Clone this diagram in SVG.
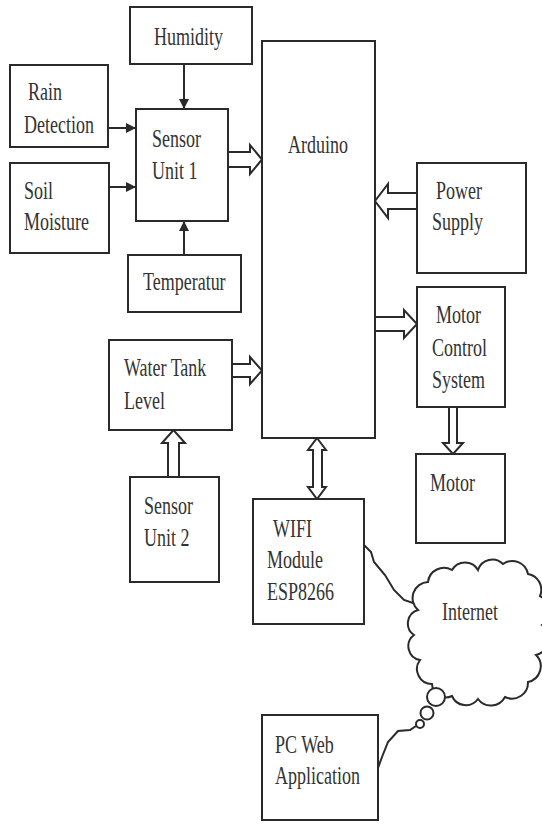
<svg xmlns="http://www.w3.org/2000/svg" width="542" height="826" viewBox="0 0 542 826">
<style>
.box{fill:#fff;stroke:#2a2a2a;stroke-width:2}
.ln{fill:none;stroke:#2a2a2a;stroke-width:2}
.ha{fill:#fff;stroke:#2a2a2a;stroke-width:2;stroke-linejoin:miter}
.t{font-family:"Liberation Serif","Times New Roman",serif;font-size:18px;fill:#333}
</style>
<defs>
<marker id="ah" viewBox="0 0 10 10" refX="10" refY="5" markerWidth="10" markerHeight="10" markerUnits="userSpaceOnUse" orient="auto">
<path d="M0,0 L10,5 L0,10 z" fill="#2a2a2a"/>
</marker>
</defs>
<rect width="542" height="826" fill="#fff"/>
<g id="connectors">
<line class="ln" x1="184" y1="64" x2="184" y2="109" marker-end="url(#ah)"/>
<line class="ln" x1="108" y1="128" x2="136" y2="128" marker-end="url(#ah)"/>
<line class="ln" x1="109" y1="187" x2="136" y2="187" marker-end="url(#ah)"/>
<line class="ln" x1="184" y1="255" x2="184" y2="221" marker-end="url(#ah)"/>
<polygon class="ha" points="228,152 250,152 250,145 262,159.5 250,174 250,167 228,167"/>
<polygon class="ha" points="232,364 250,364 250,357 262,370.5 250,384 250,377 232,377"/>
<polygon class="ha" points="417,193 388,193 388,184 375,201 388,218 388,209 417,209"/>
<polygon class="ha" points="375,317 404,317 404,310 417,324 404,338 404,331 375,331"/>
<polygon class="ha" points="449,407 449,443 443,443 453,454 463,443 457,443 457,407"/>
<polygon class="ha" points="168,477 168,443 162,443 173.5,430 185,443 179,443 179,477"/>
<polygon class="ha" points="317,438 326,450 322,450 322,487 326,487 317,499 308,487 313,487 313,450 308,450"/>
<path class="ln" d="M364,545 L371,552 L374,562 L385,575 L394,590 L404,600 L416,604"/>
<path class="ln" d="M378,768 L382,757 L388,742 L398,731 L410,730 L416,726"/>
</g>
<g id="humidity"><rect class="box" x="130" y="7" width="122" height="57"/><text class="t" transform="translate(154 45) scale(1 1.4)">Humidity</text></g>
<g id="rain"><rect class="box" x="10" y="65" width="98" height="82"/><text class="t" transform="translate(28 100) scale(1 1.4)">Rain</text><text class="t" transform="translate(24 133) scale(1 1.4)">Detection</text></g>
<g id="soil"><rect class="box" x="10" y="163" width="99" height="90"/><text class="t" transform="translate(24 199) scale(1 1.4)">Soil</text><text class="t" transform="translate(24 230) scale(1 1.4)">Moisture</text></g>
<g id="sensor1"><rect class="box" x="136" y="109" width="92" height="112"/><text class="t" transform="translate(152 147) scale(1 1.4)">Sensor</text><text class="t" transform="translate(152 179) scale(1 1.4)">Unit 1</text></g>
<g id="temperatur"><rect class="box" x="128" y="255" width="113" height="57"/><text class="t" transform="translate(143 290) scale(1 1.4)">Temperatur</text></g>
<g id="arduino"><rect class="box" x="262" y="41" width="113" height="397"/><text class="t" transform="translate(288 153) scale(1 1.4)">Arduino</text></g>
<g id="power"><rect class="box" x="417" y="163" width="109" height="110"/><text class="t" transform="translate(436 199) scale(1 1.4)">Power</text><text class="t" transform="translate(432 230) scale(1 1.4)">Supply</text></g>
<g id="watertank"><rect class="box" x="109" y="340" width="123" height="90"/><text class="t" transform="translate(124 376) scale(1 1.4)">Water Tank</text><text class="t" transform="translate(124 409) scale(1 1.4)">Level</text></g>
<g id="sensor2"><rect class="box" x="130" y="477" width="89" height="105"/><text class="t" transform="translate(144 514) scale(1 1.4)">Sensor</text><text class="t" transform="translate(144 546) scale(1 1.4)">Unit 2</text></g>
<g id="motorcontrol"><rect class="box" x="417" y="287" width="88" height="120"/><text class="t" transform="translate(436 323) scale(1 1.4)">Motor</text><text class="t" transform="translate(432 356) scale(1 1.4)">Control</text><text class="t" transform="translate(432 388) scale(1 1.4)">System</text></g>
<g id="motor"><rect class="box" x="416" y="454" width="89" height="89"/><text class="t" transform="translate(430 491) scale(1 1.4)">Motor</text></g>
<g id="wifi"><rect class="box" x="253" y="499" width="111" height="125"/><text class="t" transform="translate(273 537) scale(1 1.4)">WIFI</text><text class="t" transform="translate(267 568) scale(1 1.4)">Module</text><text class="t" transform="translate(267 600) scale(1 1.4)">ESP8266</text></g>
<g id="internet">
<path class="box" d="M418,610 A16,16 0 0 1 428,582 A16,16 0 0 1 452,570 A15,15 0 0 1 478,570 A15,15 0 0 1 503,564 A16,16 0 0 1 528,574 A16,16 0 0 1 540,596 A17,17 0 0 1 542,625 A17,17 0 0 1 536,655 A16,16 0 0 1 528,682 A16,16 0 0 1 505,697 A16,16 0 0 1 478,699 A15,15 0 0 1 452,696 A14,14 0 0 1 432,684 A15,15 0 0 1 420,660 A14,14 0 0 1 414,635 A14,14 0 0 1 418,610 Z"/>
<circle class="box" cx="436" cy="697" r="9"/>
<circle class="box" cx="427" cy="713" r="6.5"/>
<circle class="box" cx="420" cy="724" r="4"/>
<text class="t" transform="translate(442 620) scale(1 1.4)">Internet</text>
</g>
<g id="pcweb"><rect class="box" x="262" y="715" width="116" height="105"/><text class="t" transform="translate(275 753) scale(1 1.4)">PC Web</text><text class="t" transform="translate(275 784) scale(1 1.4)">Application</text></g>
</svg>
